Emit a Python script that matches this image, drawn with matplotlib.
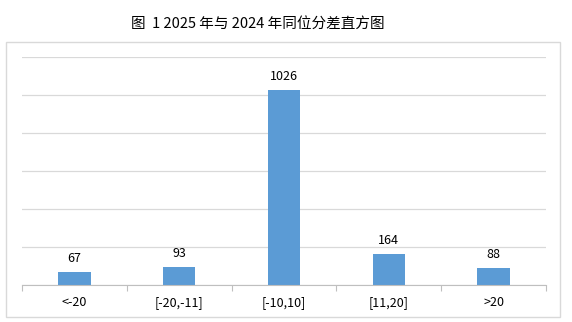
import matplotlib
matplotlib.use("Agg")
import matplotlib.pyplot as plt
from matplotlib.patches import Rectangle
from matplotlib.ticker import FixedLocator, MultipleLocator

plt.rcParams['font.family'] = ['Noto Sans CJK SC', 'DejaVu Sans']

categories = ['<-20', '[-20,-11]', '[-10,10]', '[11,20]', '>20']
counts = [67, 93, 1026, 164, 88]
title = '图  1 2025 年与 2024 年同位分差直方图'

fig = plt.figure(figsize=(5.72, 3.22), dpi=100)
fig.patches.append(Rectangle((6 / 572, 1 - 317 / 322), 554 / 572, 275 / 322,
                             transform=fig.transFigure, fill=False,
                             edgecolor='#d9d9d9', linewidth=1.0))
fig.text(258 / 572, 1 - 24 / 322, title, ha='center', va='center', fontsize=10.5)

ax = fig.add_axes([22 / 572, 1 - 285 / 322, 524 / 572, 228 / 322])
x = range(len(categories))
bars = ax.bar(x, counts, width=0.31, color='#5b9bd5', zorder=3)
for b, v in zip(bars, counts):
    ax.annotate(str(v), (b.get_x() + b.get_width() / 2, v), xytext=(0, 5),
                textcoords='offset points', ha='center', va='bottom', fontsize=9)

ax.set_xlim(-0.5, len(categories) - 0.5)
ax.set_ylim(0, 1200)
ax.yaxis.set_major_locator(MultipleLocator(200))
ax.grid(axis='y', color='#d9d9d9', linewidth=0.9, zorder=0)
ax.tick_params(axis='y', left=False, labelleft=False)
ax.set_xticks(list(x))
ax.set_xticklabels(categories, fontsize=9)
ax.tick_params(axis='x', which='major', length=0, pad=8)
ax.xaxis.set_minor_locator(FixedLocator([i - 0.5 for i in range(len(categories) + 1)]))
ax.tick_params(axis='x', which='minor', length=4, color='#bfbfbf', width=0.8)
for s in ['left', 'top', 'right']:
    ax.spines[s].set_visible(False)
ax.spines['bottom'].set_color('#bfbfbf')
ax.spines['bottom'].set_zorder(4)

fig.savefig('out.png', dpi=100)
